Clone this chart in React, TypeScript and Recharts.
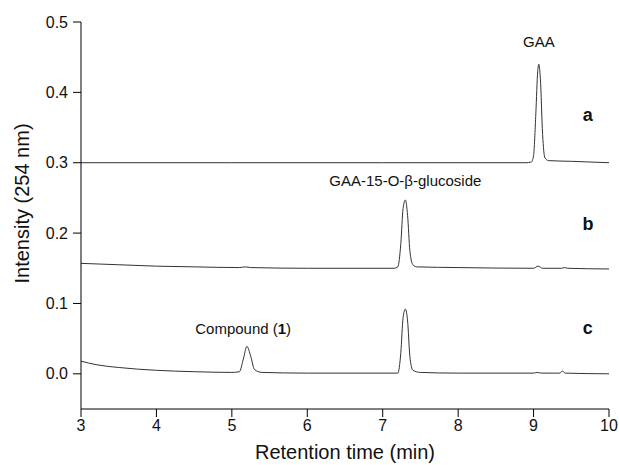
import { LineChart, Line, XAxis, YAxis, ReferenceDot } from "recharts";

// retention time (min) / absorbance pairs
const traceA = [
  [3, 0.3], [5, 0.3], [7, 0.3], [8.9, 0.3], [8.97, 0.301], [9.0, 0.31],
  [9.03, 0.37], [9.055, 0.43], [9.07, 0.44], [9.09, 0.42], [9.12, 0.34],
  [9.15, 0.307], [9.2, 0.303], [9.5, 0.302], [10, 0.3],
];

const traceB = [
  [3, 0.157], [3.5, 0.155], [4, 0.153], [4.5, 0.152], [5.1, 0.151], [5.18, 0.152],
  [5.25, 0.151], [6, 0.15], [7.15, 0.15], [7.2, 0.152], [7.24, 0.185], [7.27, 0.235],
  [7.3, 0.247], [7.33, 0.225], [7.36, 0.175], [7.4, 0.155], [7.45, 0.152], [8, 0.151],
  [9.0, 0.15], [9.06, 0.153], [9.12, 0.15], [9.37, 0.15], [9.41, 0.151], [9.45, 0.15],
  [10, 0.149],
];

const traceC = [
  [3, 0.018], [3.2, 0.013], [3.5, 0.009], [4, 0.005], [4.5, 0.003], [5.0, 0.002],
  [5.1, 0.003], [5.15, 0.02], [5.2, 0.039], [5.25, 0.025], [5.3, 0.006], [5.4, 0.002],
  [6, 0.001], [7.2, 0.001], [7.24, 0.03], [7.27, 0.08], [7.3, 0.092], [7.33, 0.075],
  [7.36, 0.025], [7.4, 0.005], [7.5, 0.002], [8, 0.001], [9.0, 0.001], [9.05, 0.002],
  [9.1, 0.001], [9.35, 0.001], [9.38, 0.004], [9.42, 0.001], [10, 0],
];

const xTicks = [3, 4, 5, 6, 7, 8, 9, 10];
const yTicks = [0, 0.1, 0.2, 0.3, 0.4, 0.5];

// peak names and trace letters
const peakLabels = [
  { x: 9.07, y: 0.472, text: "GAA" },
  { x: 7.3, y: 0.274, text: "GAA-15-O-β-glucoside" },
];
const traceLetters = [
  { x: 9.72, y: 0.368, text: "a" },
  { x: 9.72, y: 0.214, text: "b" },
  { x: 9.72, y: 0.066, text: "c" },
];
const compoundLabel = { x: 5.15, y: 0.064 };

const font = "'Liberation Sans', Arial, sans-serif";
const ink = "#333";

const toRows = (pts: number[][]) => pts.map(([t, v]) => ({ t, v }));

export default function App() {
  return (
    <div style={{ position: "absolute", left: 0, top: 0, background: "#fff" }}>
      <LineChart
        width={619}
        height={465}
        margin={{ top: 22, right: 10, bottom: 26, left: 0 }}
        style={{ fontFamily: font }}
      >
        <XAxis
          type="number"
          dataKey="t"
          domain={[3, 10]}
          ticks={xTicks}
          allowDataOverflow
          height={30}
          tickSize={8}
          tickMargin={3}
          stroke="#000"
          tick={{ fill: "#111", fontSize: 16 }}
          label={{ value: "Retention time (min)", position: "insideBottom", offset: -20, fill: "#111", fontSize: 20 }}
        />
        <YAxis
          type="number"
          domain={[-0.05, 0.5]}
          ticks={yTicks}
          allowDataOverflow
          width={81}
          tickSize={8}
          tickMargin={5}
          stroke="#000"
          tickFormatter={(v: number) => v.toFixed(1)}
          tick={{ fill: "#111", fontSize: 16 }}
          label={(props: any) => {
            const vb = props.viewBox;
            const x = vb.x + 22;
            const y = vb.y + vb.height / 2 - 12;
            return (
              <text x={x} y={y} dy="0.35em" textAnchor="middle" fontSize={20} fill="#111" fontFamily={font} transform={`rotate(-90, ${x}, ${y})`}>
                Intensity (254 nm)
              </text>
            );
          }}
        />
        <Line data={toRows(traceA)} dataKey="v" type="monotone" stroke={ink} strokeWidth={1} dot={false} isAnimationActive={false} />
        <Line data={toRows(traceB)} dataKey="v" type="monotone" stroke={ink} strokeWidth={1} dot={false} isAnimationActive={false} />
        <Line data={toRows(traceC)} dataKey="v" type="monotone" stroke={ink} strokeWidth={1} dot={false} isAnimationActive={false} />
        {peakLabels.map((p) => (
          <ReferenceDot
            key={p.text}
            x={p.x}
            y={p.y}
            r={0}
            label={{ value: p.text, position: "center", fill: "#111", fontSize: 15 }}
          />
        ))}
        {traceLetters.map((p) => (
          <ReferenceDot
            key={p.text}
            x={p.x}
            y={p.y}
            r={0}
            label={{ value: p.text, position: "center", fill: "#111", fontSize: 18, fontWeight: "bold" }}
          />
        ))}
        <ReferenceDot
          x={compoundLabel.x}
          y={compoundLabel.y}
          r={0}
          label={(props: any) => {
            const vb = props.viewBox;
            const cx = vb.x + vb.width / 2;
            const cy = vb.y + vb.height / 2;
            return (
              <text x={cx} y={cy} dy="0.35em" textAnchor="middle" fontSize={15} fill="#111" fontFamily={font}>
                Compound (<tspan fontWeight="bold">1</tspan>)
              </text>
            );
          }}
        />
      </LineChart>
    </div>
  );
}
